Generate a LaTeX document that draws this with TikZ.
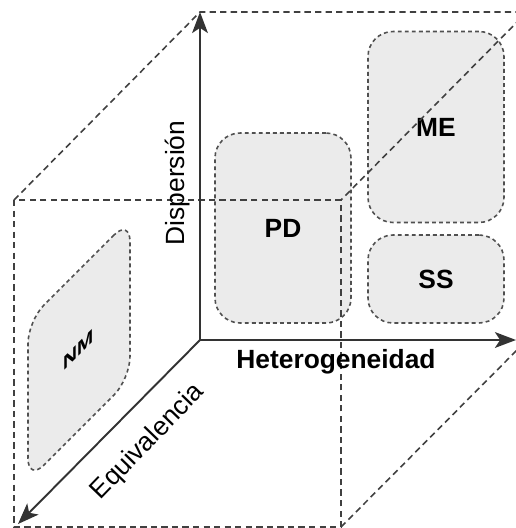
\documentclass[tikz,border=0pt]{standalone}
\usepackage{fontspec}
\setmainfont{Liberation Sans}
\usetikzlibrary{arrows.meta}
\definecolor{boxgray}{HTML}{EBEBEB}
\definecolor{linegray}{HTML}{505050}
\definecolor{axisgray}{HTML}{333333}

\begin{document}
\begin{tikzpicture}[x=0.02cm, y=-0.02cm, font=\fontsize{15}{18}\selectfont,
	region/.style = {draw=linegray, fill=boxgray, line width=0.9pt, dash pattern=on 2.2pt off 1.8pt, rounded corners=0.5cm, minimum width=2.72cm, font=\fontsize{15}{18}\selectfont\bfseries},
	cube/.style = {draw=linegray!80!black, line width=0.9pt, dash pattern=on 3.6pt off 2.4pt},
	axis/.style = {draw=axisgray, line width=1.1pt, -{Stealth[length=12pt, width=9pt, inset=3pt]}}]
			\clip (0,0) rectangle (516,528);
			% regions
			\node[region, minimum height=3.8cm] (PD) at (283,228) {PD};
			\node[region, minimum height=3.82cm] (ME) at (436,127) {ME};
			\node[region, minimum height=1.76cm] (SS) at (436,279) {SS};
			\node[region, minimum width=2.04cm, minimum height=3.2cm, rounded corners=0.45cm, yslant=1, font=\fontsize{11}{12}\selectfont\bfseries] (NM) at (79,350) {NM};
			% cube
			\coordinate (O) at (200,340);
			\coordinate (bt) at (200,12);
			\coordinate (br) at (527,12);
			\coordinate (ftl) at (14,200);
			\coordinate (ftr) at (341,200);
			\coordinate (fbl) at (14,527);
			\coordinate (fbr) at (341,527);
			\coordinate (bbr) at (527,340);
			\draw[cube] (ftl) rectangle (fbr);
			\draw[cube] (ftl) -- (bt) -- (br) -- (ftr);
			\draw[cube] (fbr) -- (bbr);
			% axes
			\coordinate (xend) at (516,340);
			\coordinate (zend) at (18,524);
			\draw[axis] (O) -- (bt);
			\draw[axis] (O) -- (xend);
			\draw[axis] (O) -- (zend);
			\node[rotate=90] (dispersion) at (178,183) {Dispersión};
			\node[font=\fontsize{15}{18}\selectfont\bfseries] (hetero) at (336,362) {Heterogeneidad};
			\node[rotate=46] (equiv) at (148,442) {Equivalencia};
			\end{tikzpicture}
\end{document}
